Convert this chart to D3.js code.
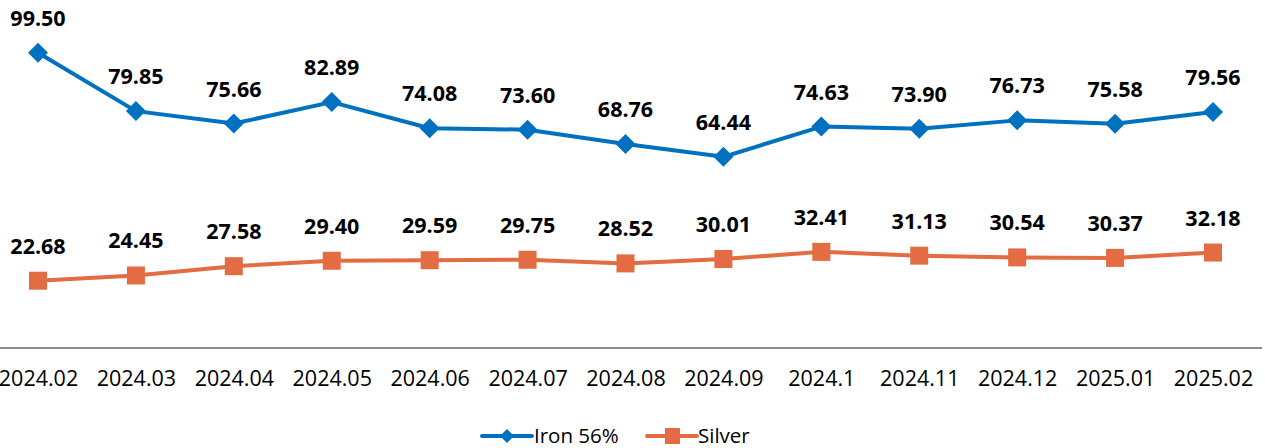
<!DOCTYPE html>
<html>
<head>
<meta charset="utf-8">
<script src="https://cdn.jsdelivr.net/npm/d3@7"></script>
<style>
  html, body { margin: 0; padding: 0; background: #fff; }
  svg { display: block; font-family: 'Open Sans', 'Noto Sans', sans-serif; }
</style>
</head>
<body>
<svg id="chart" width="1265" height="448"></svg>
<script>
// Iron 56% vs Silver, monthly
const months = ['2024.02', '2024.03', '2024.04', '2024.05', '2024.06', '2024.07', '2024.08',
  '2024.09', '2024.1', '2024.11', '2024.12', '2025.01', '2025.02'];
const iron = [99.50, 79.85, 75.66, 82.89, 74.08, 73.60, 68.76, 64.44, 74.63, 73.90, 76.73, 75.58, 79.56];
const silver = [22.68, 24.45, 27.58, 29.40, 29.59, 29.75, 28.52, 30.01, 32.41, 31.13, 30.54, 30.37, 32.18];

const BLUE = '#0070C0';
const ORANGE = '#E36C42';

const svg = d3.select('#chart');

const x = d3.scalePoint().domain(months).range([38, 1213]);
const y = d3.scaleLinear().domain([0, 120]).range([348, -8]);

// x axis line + labels
const axis = d3.axisBottom(x).tickSize(0).tickPadding(23);
const gx = svg.append('g').attr('transform', 'translate(0,348)').call(axis);
gx.select('.domain').remove();
gx.selectAll('text').attr('font-size', 21.5).attr('fill', '#000').attr('font-family', "'Open Sans', sans-serif");
svg.append('line')
  .attr('x1', 0).attr('x2', 1262).attr('y1', 348).attr('y2', 348)
  .attr('stroke', '#8c8c8c').attr('stroke-width', 2);

const line = d3.line().x((d, i) => x(months[i])).y(d => y(d));

function drawSeries(vals, color, shape) {
  const g = svg.append('g');
  g.append('path').datum(vals)
    .attr('d', line).attr('fill', 'none')
    .attr('stroke', color).attr('stroke-width', 4).attr('stroke-linejoin', 'round');
  g.selectAll('path.m').data(vals).join('path')
    .attr('class', 'm')
    .attr('transform', (d, i) => `translate(${x(months[i])},${y(d)})`)
    .attr('d', shape === 'diamond' ? 'M0,-10L10,0L0,10L-10,0Z' : 'M-9,-9H9V9H-9Z')
    .attr('fill', color);
  g.selectAll('text').data(vals).join('text')
    .attr('x', (d, i) => x(months[i]))
    .attr('y', d => y(d) - 27)
    .attr('text-anchor', 'middle')
    .attr('font-size', 21.5).attr('font-weight', 'bold').attr('fill', '#000')
    .text(d => d.toFixed(2));
}

drawSeries(iron, BLUE, 'diamond');
drawSeries(silver, ORANGE, 'square');

// legend
const leg = svg.append('g').attr('transform', 'translate(0,436)');
leg.append('line').attr('x1', 482).attr('x2', 532).attr('stroke', BLUE).attr('stroke-width', 4).attr('stroke-linecap', 'round');
leg.append('path').attr('d', 'M507,-7L514,0L507,7L500,0Z').attr('fill', BLUE);
leg.append('text').attr('x', 534).attr('y', 7).attr('font-size', 20.5).text('Iron 56%');
leg.append('line').attr('x1', 647).attr('x2', 697).attr('stroke', ORANGE).attr('stroke-width', 4).attr('stroke-linecap', 'round');
leg.append('path').attr('d', 'M665,-8H680V8H665Z').attr('fill', ORANGE);
leg.append('text').attr('x', 698).attr('y', 7).attr('font-size', 20.5).text('Silver');
</script>
</body>
</html>
